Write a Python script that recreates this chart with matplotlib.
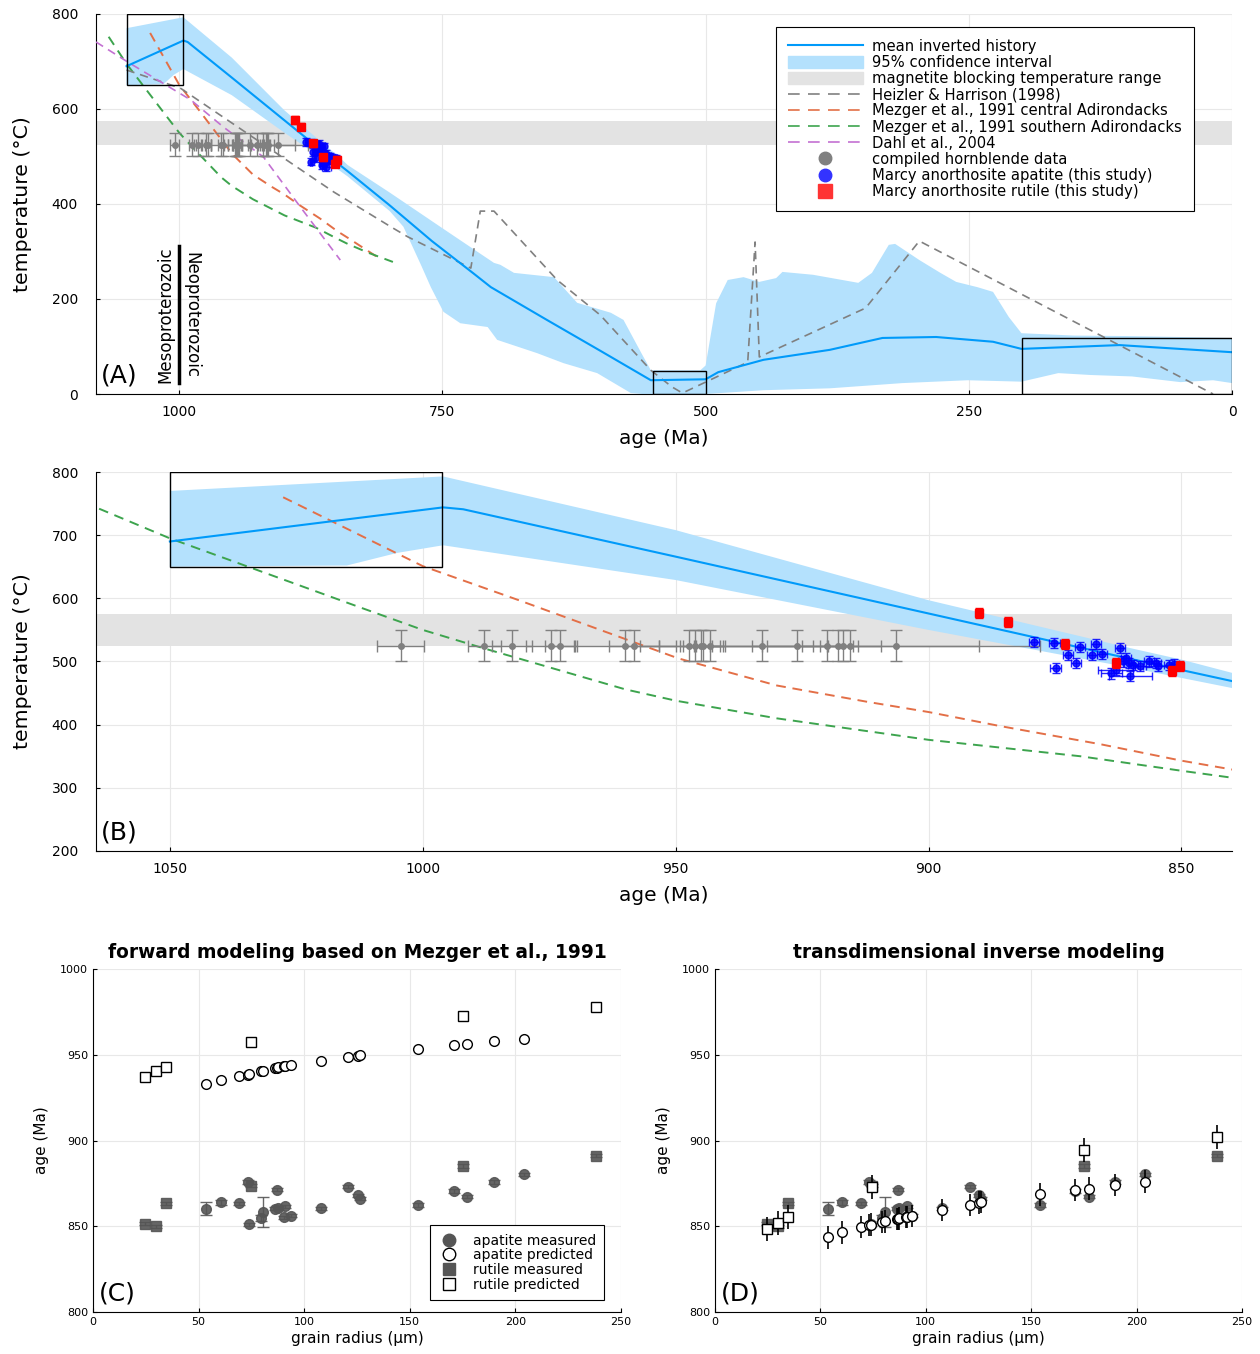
import numpy as np
import matplotlib.pyplot as plt
from matplotlib.lines import Line2D
from matplotlib.patches import Patch, Rectangle

plt.rcParams['font.family'] = ['DejaVu Sans']

# ---- thermal history (panel A / B) ----
mean_age = [1050, 996, 992, 950, 900, 860, 840, 800, 760, 749, 720, 704, 650, 600, 552,
            500, 488, 445, 382, 332, 281, 227, 200, 107, 0]
mean_T = [690, 744, 741, 666, 576, 504, 469, 397, 322, 303, 253, 225, 155, 91, 29,
          31, 46, 72, 93, 118, 120, 110, 95, 103, 88]

up_age = [1050, 996, 950, 900, 860, 850, 840, 800, 750, 701, 695, 682, 644, 622, 590, 578,
          561, 552, 505, 500, 490, 479, 464, 449, 433, 427, 398, 355, 342, 326, 320, 297,
          277, 262, 242, 227, 212, 200, 150, 100, 50, 0]
up_T = [770, 793, 708, 597, 521, 503, 482, 424, 349, 276, 272, 255, 246, 192, 171, 156,
        86, 50, 50, 60, 191, 240, 246, 236, 244, 257, 251, 234, 255, 314, 316, 282,
        255, 236, 225, 215, 162, 128, 123, 122, 120, 118]

lo_age = [1050, 1015, 1005, 996, 950, 900, 860, 840, 800, 787, 770, 761, 749, 733, 707, 698,
          660, 635, 603, 571, 560, 500, 445, 382, 313, 251, 200, 165, 134, 95, 49, 18, 0]
lo_T = [650, 652, 672, 684, 629, 550, 490, 458, 385, 352, 270, 225, 173, 149, 141, 114,
        86, 65, 44, 2, 0, 0, 8, 12, 23, 29, 26, 44, 40, 37, 25, 29, 23]

heizler_age = [1050, 999, 853, 799, 783, 723, 714, 701, 641, 600, 552, 532, 522, 460, 453,
               449, 348, 297, 18]
heizler_T = [682, 644, 425, 352, 331, 265, 385, 385, 240, 166, 50, 15, 2, 67, 320,
             78, 181, 322, 0]

mezc_age = [1027.6, 1000, 981, 949.5, 930, 912, 900, 886, 866, 850, 840, 813]
mezc_T = [760, 651, 597, 505, 462, 436, 420, 398, 369, 343, 329, 290]

mezs_age = [1067, 1050, 1012.5, 1000, 988, 960, 950, 930, 900, 870, 850, 840, 820, 797]
mezs_T = [752, 695, 586, 550, 521, 456, 438, 410, 376, 350, 327, 316, 297, 278]

dahl_age = [1079, 1049, 989, 958, 920, 885, 847]
dahl_T = [741, 699, 619, 562, 499, 394, 282]

hbl_age = [1004.4, 987.8, 982.4, 974.6, 972.9, 960.0, 958.2, 947.3, 946.2, 945.0, 944.6,
           943.3, 932.9, 926.0, 920.0, 918.0, 916.9, 915.5, 906.5]
hbl_age_err = [4.6, 3.3, 4, 5, 3, 10, 5, 6, 3, 12, 4, 3, 10, 6, 5, 28, 3, 6, 28.5]
hbl_T = 525
hbl_T_err = 25

ap_age = [879.2, 875.1, 874.9, 872.5, 870.8, 870.0, 867.7, 866.9, 865.7, 862.2, 863.0, 863.9,
          861.6, 860.9, 860.3, 860.1, 859.6, 858.1, 856.5, 855.0, 854.7, 852.4, 851.4]
ap_T = [531, 529, 489, 510, 497, 523, 511, 527, 512, 521, 487, 481,
        500, 505, 497, 477, 494, 493, 500, 497, 493, 494, 496]
ap_age_err = [1, 1, 1, 1, 1, 1, 1, 1, 1, 1, 3.5, 2.1,
              1, 1, 1, 4.3, 1, 1, 1, 1, 3, 1, 1]
ap_T_err = 8

rt_age = [890.1, 884.3, 873.0, 863.0, 851.9, 850.3]
rt_T = [577, 563, 527.5, 498, 485, 493]
rt_T_err = 8

# ---- grain ages (panel C / D) ----
ap_r = [53.7, 60.4, 69.3, 73.2, 74.0, 79.4, 80.5, 86.2, 87.0, 87.5, 90.6, 91.1, 93.6,
        107.8, 120.8, 125.4, 126.2, 154.0, 170.8, 177.3, 189.9, 204.1]
ap_meas = [860.3, 864.1, 863.3, 875.8, 851.2, 854.8, 858.2, 860.3, 871.3, 860.7, 855.2, 861.7,
           856.2, 860.5, 873.1, 868.1, 866.1, 862.3, 870.7, 867.3, 875.8, 880.2]
ap_meas_err = [4, 1.5, 1, 1, 1, 1.5, 8.7, 1, 1, 1, 1, 1, 1, 1, 1, 1, 1, 1, 1, 1, 1, 1]
ap_fwd = [932.8, 935.2, 937.6, 938.4, 938.7, 940.3, 940.6, 942.3, 942.5, 942.6, 943.4, 943.5,
          943.9, 946.6, 948.8, 949.5, 949.7, 953.6, 955.6, 956.4, 957.8, 959.2]
ap_inv = [843.5, 846.4, 849.4, 850.8, 851.0, 852.5, 852.8, 854.2, 854.4, 854.6, 855.3, 855.4,
          856.0, 859.5, 862.6, 863.8, 864.1, 868.6, 871.0, 872.0, 874.1, 876.1]
ap_inv_err = 6.5

rt_r = [24.5, 29.9, 34.8, 74.6, 175.2, 238.2]
rt_meas = [851.6, 850.0, 863.3, 873.7, 885.2, 891.2]
rt_meas_err = 1
rt_fwd = [936.8, 940.5, 943.0, 957.3, 972.4, 977.6]
rt_inv = [848.4, 852.2, 855.5, 872.9, 894.3, 902.2]
rt_inv_err = 7

c_blue = '#009AFA'
c_band = '#b4e1fd'
c_orange = '#E36F47'
c_green = '#3DA44E'
c_purple = '#C371D2'
dash = (0, (5, 3.5))

fig = plt.figure(figsize=(12.6, 13.54), dpi=100)
axA = fig.add_axes([0.0762, 0.709, 0.9016, 0.2807])
axB = fig.add_axes([0.0762, 0.3715, 0.9016, 0.2799])
axC = fig.add_axes([0.0738, 0.031, 0.4191, 0.2533])
axD = fig.add_axes([0.5675, 0.031, 0.4182, 0.2533])


def style(ax, labelsize):
    ax.grid(True, color='#e8e8e8', lw=0.8, zorder=0)
    ax.set_axisbelow(True)
    for s in ['top', 'right']:
        ax.spines[s].set_visible(False)
    ax.tick_params(direction='in', length=3, labelsize=labelsize)


def history(ax, ms):
    ax.axhspan(525, 575, color='#e3e3e3', zorder=1, lw=0)
    ax.fill(list(up_age) + lo_age[::-1], list(up_T) + lo_T[::-1], color=c_band, lw=0, zorder=2)
    ax.plot(mean_age, mean_T, color=c_blue, lw=1.5, zorder=4)
    ax.plot(mezc_age, mezc_T, color=c_orange, ls=dash, lw=1.4, zorder=3)
    ax.plot(mezs_age, mezs_T, color=c_green, ls=dash, lw=1.4, zorder=3)
    ax.errorbar(hbl_age, [hbl_T] * len(hbl_age), xerr=hbl_age_err, yerr=hbl_T_err, fmt='o',
                color='#808080', ms=ms - 1, capsize=4, elinewidth=1, zorder=5)
    ax.errorbar(ap_age, ap_T, xerr=ap_age_err, yerr=ap_T_err, fmt='o', color='#0000ff',
                alpha=0.85, ms=ms, capsize=3, elinewidth=1, zorder=6)
    ax.errorbar(rt_age, rt_T, yerr=rt_T_err, fmt='s', color='#ff0000', ms=ms + 1,
                capsize=3, elinewidth=1, zorder=7)
    ax.add_patch(Rectangle((996.2, 650), 1050 - 996.2, 150, fill=False, ec='black', lw=1, zorder=8))
    ax.tick_params(axis='y', pad=13)
    ax.tick_params(axis='x', pad=8)
    ax.set_xlabel('age (Ma)', fontsize=14.5, labelpad=7)
    ax.set_ylabel('temperature (°C)', fontsize=14.7, labelpad=14)


# ---------- panel A ----------
style(axA, 10)
history(axA, 5)
axA.plot(heizler_age, heizler_T, color='#808080', ls=dash, lw=1.2, zorder=3)
axA.plot(dahl_age, dahl_T, color=c_purple, ls=dash, lw=1.2, zorder=3)
axA.add_patch(Rectangle((500, 0), 50.4, 48.4, fill=False, ec='black', lw=1, zorder=8))
axA.add_patch(Rectangle((0, 0), 199.6, 118, fill=False, ec='black', lw=1, zorder=8))
axA.set_xlim(1079, 0)
axA.set_ylim(0, 800)
axA.set_xticks([1000, 750, 500, 250, 0])
axA.set_yticks([0, 200, 400, 600, 800])
axA.plot([1000, 1000], [23, 312], color='black', lw=2.5, zorder=9)
axA.text(1013, 167, 'Mesoproterozoic', rotation=90, ha='center', va='center', fontsize=12)
axA.text(988, 167, 'Neoproterozoic', rotation=270, ha='center', va='center', fontsize=12)
axA.text(0.004, 0.03, '(A)', transform=axA.transAxes, fontsize=18)

handles = [
    Line2D([], [], color=c_blue, lw=1.5),
    Patch(color=c_band),
    Patch(color='#e3e3e3'),
    Line2D([], [], color='#808080', ls=(0, (7, 5)), lw=1.2),
    Line2D([], [], color=c_orange, ls=(0, (7, 5)), lw=1.2),
    Line2D([], [], color=c_green, ls=(0, (7, 5)), lw=1.2),
    Line2D([], [], color=c_purple, ls=(0, (7, 5)), lw=1.2),
    Line2D([], [], color='#808080', marker='o', ls='none', ms=9),
    Line2D([], [], color='#3333ff', marker='o', ls='none', ms=9),
    Line2D([], [], color='#ff3333', marker='s', ls='none', ms=10),
]
labels = ['mean inverted history', '95% confidence interval', 'magnetite blocking temperature range',
          'Heizler & Harrison (1998)', 'Mezger et al., 1991 central Adirondacks',
          'Mezger et al., 1991 southern Adirondacks', 'Dahl et al., 2004',
          'compiled hornblende data', 'Marcy anorthosite apatite (this study)',
          'Marcy anorthosite rutile (this study)']
legA = axA.legend(handles, labels, loc='upper right', bbox_to_anchor=(0.9665, 0.966), fontsize=10.6,
                  labelspacing=0.08, handlelength=5.1, handleheight=0.85, handletextpad=0.65,
                  borderpad=0.8, borderaxespad=0, fancybox=False, edgecolor='black', framealpha=1)
legA.get_frame().set_linewidth(0.8)
legA.set_zorder(20)

# ---------- panel B ----------
style(axB, 10)
history(axB, 5)
axB.set_xlim(1064.6, 840)
axB.set_ylim(200, 800)
axB.set_xticks([1050, 1000, 950, 900, 850])
axB.set_yticks([200, 300, 400, 500, 600, 700, 800])
axB.text(0.004, 0.03, '(B)', transform=axB.transAxes, fontsize=18)

# ---------- panels C / D ----------
meas_col = '#555555'
for ax in (axC, axD):
    style(ax, 8)
    ax.errorbar(ap_r, ap_meas, yerr=ap_meas_err, fmt='o', color=meas_col, alpha=0.9, ms=7,
                capsize=4, elinewidth=1, zorder=3)
    ax.errorbar(rt_r, rt_meas, yerr=rt_meas_err, fmt='s', color=meas_col, alpha=0.9, ms=7.5,
                capsize=4, elinewidth=1, zorder=3)
    ax.set_xlim(0, 250)
    ax.set_ylim(800, 1000)
    ax.set_xticks([0, 50, 100, 150, 200, 250])
    ax.set_yticks([800, 850, 900, 950, 1000])
    ax.set_xlabel('grain radius (μm)', fontsize=11, labelpad=3)
    ax.set_ylabel('age (Ma)', fontsize=11, labelpad=8)

axC.plot(ap_r, ap_fwd, 'o', mfc='white', mec='black', ms=7, zorder=4)
axC.plot(rt_r, rt_fwd, 's', mfc='white', mec='black', ms=7.5, zorder=4)
axC.set_title('forward modeling based on Mezger et al., 1991', fontsize=13.4, fontweight='bold', pad=8)
axC.text(0.012, 0.035, '(C)', transform=axC.transAxes, fontsize=18)
hC = [Line2D([], [], color=meas_col, marker='o', ls='none', ms=9),
      Line2D([], [], mfc='white', mec='black', marker='o', ls='none', ms=9),
      Line2D([], [], color=meas_col, marker='s', ls='none', ms=9),
      Line2D([], [], mfc='white', mec='black', marker='s', ls='none', ms=9)]
legC = axC.legend(hC, ['apatite measured', 'apatite predicted', 'rutile measured', 'rutile predicted'],
                  loc='lower right', bbox_to_anchor=(0.968, 0.035), fontsize=10, labelspacing=0.05,
                  handlelength=1.6, handletextpad=0.9, borderpad=0.6, borderaxespad=0,
                  fancybox=False, edgecolor='black', framealpha=1)
legC.get_frame().set_linewidth(0.8)

axD.errorbar(ap_r, ap_inv, yerr=ap_inv_err, fmt='o', mfc='white', mec='black', ecolor='black',
             ms=7, elinewidth=1.2, zorder=4)
axD.errorbar(rt_r, rt_inv, yerr=rt_inv_err, fmt='s', mfc='white', mec='black', ecolor='black',
             ms=7.5, elinewidth=1.2, zorder=4)
axD.set_title('transdimensional inverse modeling', fontsize=13.4, fontweight='bold', pad=8)
axD.text(0.012, 0.035, '(D)', transform=axD.transAxes, fontsize=18)

fig.savefig('out.png', dpi=100)
